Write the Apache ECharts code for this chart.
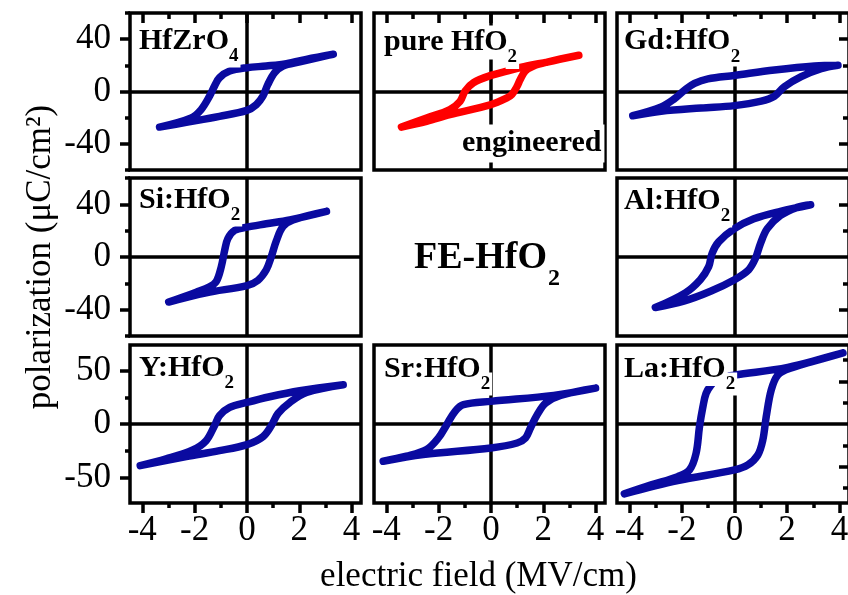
<!DOCTYPE html>
<html><head><meta charset="utf-8">
<script src="https://cdn.jsdelivr.net/npm/echarts@6/dist/echarts.min.js"></script>
<style>html,body{margin:0;padding:0;background:#fff}#c{width:848px;height:595px}</style>
</head><body><div id="c"></div>
<script>
// ---------------- data ----------------
const xMajorTicks = [-4, -2, 0, 2, 4];
const xMinorTicks = [-3, -1, 1, 3];
const yMajorTicks60 = [-40, 0, 40];
const yMinorTicks60 = [-60, -20, 20, 60];
const yMajorTicks75 = [-50, 0, 50];
const yMinorTicks75 = [-25, 25];
const yRightMajor = [-40, 40];
const yRightMinor = [-20, 20];
const yRightMinorLa = [-60, -20, 20, 60];

const panelNames = ['HfZrO', 'pure HfO', 'Gd:HfO', 'Si:HfO', 'Al:HfO', 'Y:HfO', 'Sr:HfO', 'La:HfO'];
const panelSubs = ['4', '2', '2', '2', '2', '2', '2', '2'];

// each loop: right tip -> upper branch -> left tip -> lower branch -> right tip  [E (MV/cm), P (uC/cm2)]
const loopHfZrO4 = [[3.30,28.5],[2.27,24.6],[1.51,21.3],[0.74,19.5],[0,18.2],[-0.66,15.6],[-1.05,10.5],[-1.24,4.1],[-1.43,-3.6],[-1.75,-13.8],[-2.13,-20.2],[-3.34,-27.2],
  [-2.32,-23.6],[-1.05,-19.0],[0,-14.4],[0.36,-10.0],[0.61,-3.6],[0.80,5.4],[1.06,14.4],[1.38,19.5],[2.02,22.6],[3.30,28.5]];
const loopPure = [[3.36,27.7],[2.15,22.5],[1.38,19.5],[0.61,15.6],[0,12.3],[-0.67,6.7],[-0.99,0.3],[-1.18,-7.5],[-1.57,-13.8],[-2.46,-20.3],[-3.42,-27.2],
  [-2.46,-22.8],[-1.57,-17.7],[0,-10.0],[0.61,-4.9],[0.80,-2.3],[0.99,3.6],[1.12,9.2],[1.31,15.6],[1.63,19.5],[2.15,22.5],[3.36,27.7]];
const loopGd = [[3.94,20.0],[3.05,19.5],[1.52,16.4],[0,12.3],[-1.01,9.7],[-1.52,6.2],[-1.90,1.0],[-2.29,-5.6],[-2.79,-11.8],[-3.87,-18.5],
  [-2.79,-15.1],[-1.27,-12.6],[0,-10.8],[1.02,-7.4],[1.52,-3.6],[1.90,3.6],[2.54,11.3],[3.30,17.4],[3.94,20.0]];
const loopSi = [[3.04,34.7],[1.64,28.2],[0.74,25.2],[0,22.7],[-0.47,20.2],[-0.73,14.0],[-0.85,5.2],[-0.98,-7.3],[-1.17,-18.5],[-1.43,-22.7],[-1.94,-26.7],[-2.99,-34.2],
  [-1.56,-27.2],[0,-21.7],[0.42,-17.7],[0.74,-9.7],[0.93,0.2],[1.13,12.7],[1.38,23.2],[1.76,28.2],[3.04,34.7]];
const loopAl = [[2.90,39.7],[1.75,34.7],[0.74,29.0],[0,21.5],[-0.60,11.5],[-0.85,2.8],[-0.98,-7.3],[-1.30,-17.2],[-1.87,-27.2],[-3.01,-38.4],
  [-1.93,-33.5],[-0.91,-26.0],[0,-17.2],[0.54,-9.7],[0.80,-1.0],[0.99,10.2],[1.25,21.5],[1.75,31.5],[2.39,37.7],[2.90,39.7]];
const loopY = [[3.68,36.7],[2.02,31.1],[0.87,25.5],[0,20.2],[-0.66,15.5],[-1.05,7.8],[-1.24,-1.6],[-1.56,-15.6],[-2.07,-24.3],[-3.09,-32.7],[-4.08,-39.0],
  [-2.32,-30.6],[-1.05,-25.0],[0,-19.3],[0.61,-11.9],[0.93,-1.6],[1.19,9.9],[1.64,20.2],[2.28,29.5],[3.68,36.7]];
const loopSr = [[4.00,33.6],[2.40,26.8],[0,21.2],[-1.05,18.1],[-1.37,11.9],[-1.69,-0.6],[-2.01,-13.1],[-2.46,-23.9],[-3.23,-30.2],[-4.12,-34.9],
  [-2.59,-28.6],[0,-22.4],[1.00,-17.8],[1.32,-13.1],[1.51,-3.7],[1.77,8.8],[2.09,19.6],[2.66,26.8],[4.00,33.6]];
const loopLa = [[4.13,66.6],[2.03,53.0],[0,45.8],[-0.63,42.7],[-0.89,36.4],[-1.08,28.7],[-1.20,16.2],[-1.33,-2.5],[-1.46,-27.4],[-1.71,-43.0],[-2.16,-49.3],[-3.17,-57.0],[-4.19,-65.4],
  [-2.16,-53.0],[0,-43.0],[0.51,-38.3],[0.89,-29.0],[1.08,-15.0],[1.21,6.8],[1.40,31.8],[1.65,45.8],[2.10,52.0],[4.13,66.6]];

// ---------------- layout / style ----------------
const FONT = '"Liberation Serif", "Times New Roman", serif';
const BLUE = '#0a0aa0';
const RED = '#ff0000';
const LW = 3.5;
const X_MIN = -4.47, X_MAX = 4.36;
const cols = [{left:130,width:231},{left:374,width:231},{left:617,width:232}];
const rows = [{top:13,height:157},{top:178,height:158},{top:345,height:158}];

const panels = [
  {r:0,c:0,data:loopHfZrO4,color:BLUE, lx:136, ly:41},
  {r:0,c:1,data:loopPure,color:RED, lx:381, ly:42.5},
  {r:0,c:2,data:loopGd,color:BLUE, lx:621, ly:41.5, tallSub:true},
  {r:1,c:0,data:loopSi,color:BLUE, lx:136, ly:200},
  {r:1,c:2,data:loopAl,color:BLUE, lx:621, ly:201},
  {r:2,c:0,data:loopY,color:BLUE, lx:136, ly:368},
  {r:2,c:1,data:loopSr,color:BLUE, lx:381, ly:369},
  {r:2,c:2,data:loopLa,color:BLUE, lx:621, ly:369}
];

function mkAxis(gi, pos, min, max, ticks, len, inside, showLabels, margin, extra) {
  const a = {
    gridIndex: gi, type: 'value', position: pos, min: min, max: max, silent: true,
    axisLine: {show: false, onZero: false},
    splitLine: {show: false},
    minorTick: {show: false},
    axisTick: ticks ? {show: true, customValues: ticks, inside: inside, length: len, lineStyle: {color: '#000', width: LW}} : {show: false},
    axisLabel: showLabels ? {show: true, customValues: ticks, margin: margin, fontFamily: FONT, fontSize: 35, color: '#000'} : {show: false}
  };
  return Object.assign(a, extra || {});
}

const grid = [], xAxis = [], yAxis = [], series = [], graphic = [];
const meas = document.createElement('canvas').getContext('2d');
function textW(font, s) { meas.font = font; return meas.measureText(s).width; }
const LFONT = 'bold 30px ' + FONT;
const SFONT = 'bold 19px ' + FONT;

panels.forEach((p, i) => {
  grid.push({left: cols[p.c].left, top: rows[p.r].top, width: cols[p.c].width, height: rows[p.r].height,
    show: true, borderColor: '#000', borderWidth: LW, backgroundColor: 'transparent', containLabel: false, outerBoundsMode: 'none'});
  const y75 = p.r === 2;
  const ymin = y75 ? -74 : -60, ymax = y75 ? 74 : 60;
  // x axes
  const xi = xAxis.length;
  let xExtra = {};
  if (i === 6) xExtra = {name: 'electric field (MV/cm)', nameLocation: 'middle', nameGap: 56,
      nameTextStyle: {fontFamily: FONT, fontSize: 35, color: '#000', padding: [0, 22, 0, 0]}};
  xAxis.push(mkAxis(i, 'bottom', X_MIN, X_MAX, p.r === 2 ? xMajorTicks : null, 10, false, p.r === 2, 10, xExtra));
  if (p.r === 2) xAxis.push(mkAxis(i, 'bottom', X_MIN, X_MAX, xMinorTicks, 5, false, false));
  if (p.r === 0) {
    xAxis.push(mkAxis(i, 'top', X_MIN, X_MAX, xMajorTicks, 10, true, false));
    xAxis.push(mkAxis(i, 'top', X_MIN, X_MAX, xMinorTicks, 6, true, false));
  }
  // y axes
  const yi = yAxis.length;
  let yExtra = {};
  if (i === 3) yExtra = {name: 'polarization (μC/cm²)', nameLocation: 'middle', nameGap: 72,
      nameTextStyle: {fontFamily: FONT, fontSize: 35, color: '#000'}};
  const yMaj = y75 ? yMajorTicks75 : yMajorTicks60;
  const yMin = y75 ? yMinorTicks75 : yMinorTicks60;
  yAxis.push(mkAxis(i, 'left', ymin, ymax, p.c === 0 ? yMaj : null, 10, false, p.c === 0, 19, yExtra));
  if (p.c === 0) yAxis.push(mkAxis(i, 'left', ymin, ymax, yMin, 5, false, false));
  if (p.c === 2) {
    yAxis.push(mkAxis(i, 'right', ymin, ymax, yRightMajor, 10, true, false));
    yAxis.push(mkAxis(i, 'right', ymin, ymax, y75 ? yRightMinorLa : yRightMinor, 6, true, false));
  }
  series.push({
    type: 'line', xAxisIndex: xi, yAxisIndex: yi, data: p.data, smooth: 0.35,
    showSymbol: false, symbol: 'none', silent: true, animation: false, z: 3,
    lineStyle: {color: p.color, width: 7.5, cap: 'round', join: 'round'},
    markLine: {silent: true, symbol: 'none', animation: false, z: 2, label: {show: false},
      lineStyle: {color: '#000', width: LW, type: 'solid'}, emphasis: {disabled: true},
      data: [{xAxis: 0}, {yAxis: 0}]}
  });
  // panel label
  const mainTxt = panelNames[i];
  const w = textW(LFONT, mainTxt);
  graphic.push({type: 'text', z: 100, x: p.lx, y: p.ly, style: {text: mainTxt, font: LFONT, fill: '#000',
    textAlign: 'left', verticalAlign: 'middle', textVerticalAlign: 'middle', backgroundColor: '#fff', padding: [2, 2, 2, 3]}});
  if (p.tallSub) {
    graphic.push({type: 'text', z: 100, x: p.lx + w + 1, y: p.ly + 25, style: {text: panelSubs[i], font: SFONT, fill: '#000',
      textAlign: 'left', verticalAlign: 'bottom', textVerticalAlign: 'bottom', backgroundColor: '#fff', padding: [31, 3, 0, 2]}});
  } else {
    graphic.push({type: 'text', z: 100, x: p.lx + w + 1, y: p.ly + 15, style: {text: panelSubs[i], font: SFONT, fill: '#000',
      textAlign: 'left', verticalAlign: 'middle', textVerticalAlign: 'middle', backgroundColor: '#fff', padding: [2, 2, 2, 2]}});
  }
});

// other texts
graphic.push({type: 'text', z: 100, x: 459, y: 143.5, style: {text: 'engineered', font: LFONT, fill: '#000',
  textAlign: 'left', verticalAlign: 'middle', textVerticalAlign: 'middle', backgroundColor: '#fff', padding: [4, 3, 4, 3]}});
const FEFONT = 'bold 38px ' + FONT;
const feW = textW(FEFONT, 'FE-HfO');
graphic.push({type: 'text', z: 100, x: 414, y: 258, style: {text: 'FE-HfO', font: FEFONT, fill: '#000',
  textAlign: 'left', verticalAlign: 'middle', textVerticalAlign: 'middle'}});
graphic.push({type: 'text', z: 100, x: 414 + feW + 1, y: 279, style: {text: '2', font: 'bold 24px ' + FONT, fill: '#000',
  textAlign: 'left', verticalAlign: 'middle', textVerticalAlign: 'middle'}});

const chart = echarts.init(document.getElementById('c'), null, {renderer: 'canvas'});
chart.setOption({
  backgroundColor: '#fff', animation: false,
  grid: grid, xAxis: xAxis, yAxis: yAxis, series: series, graphic: graphic
});
</script></body></html>
